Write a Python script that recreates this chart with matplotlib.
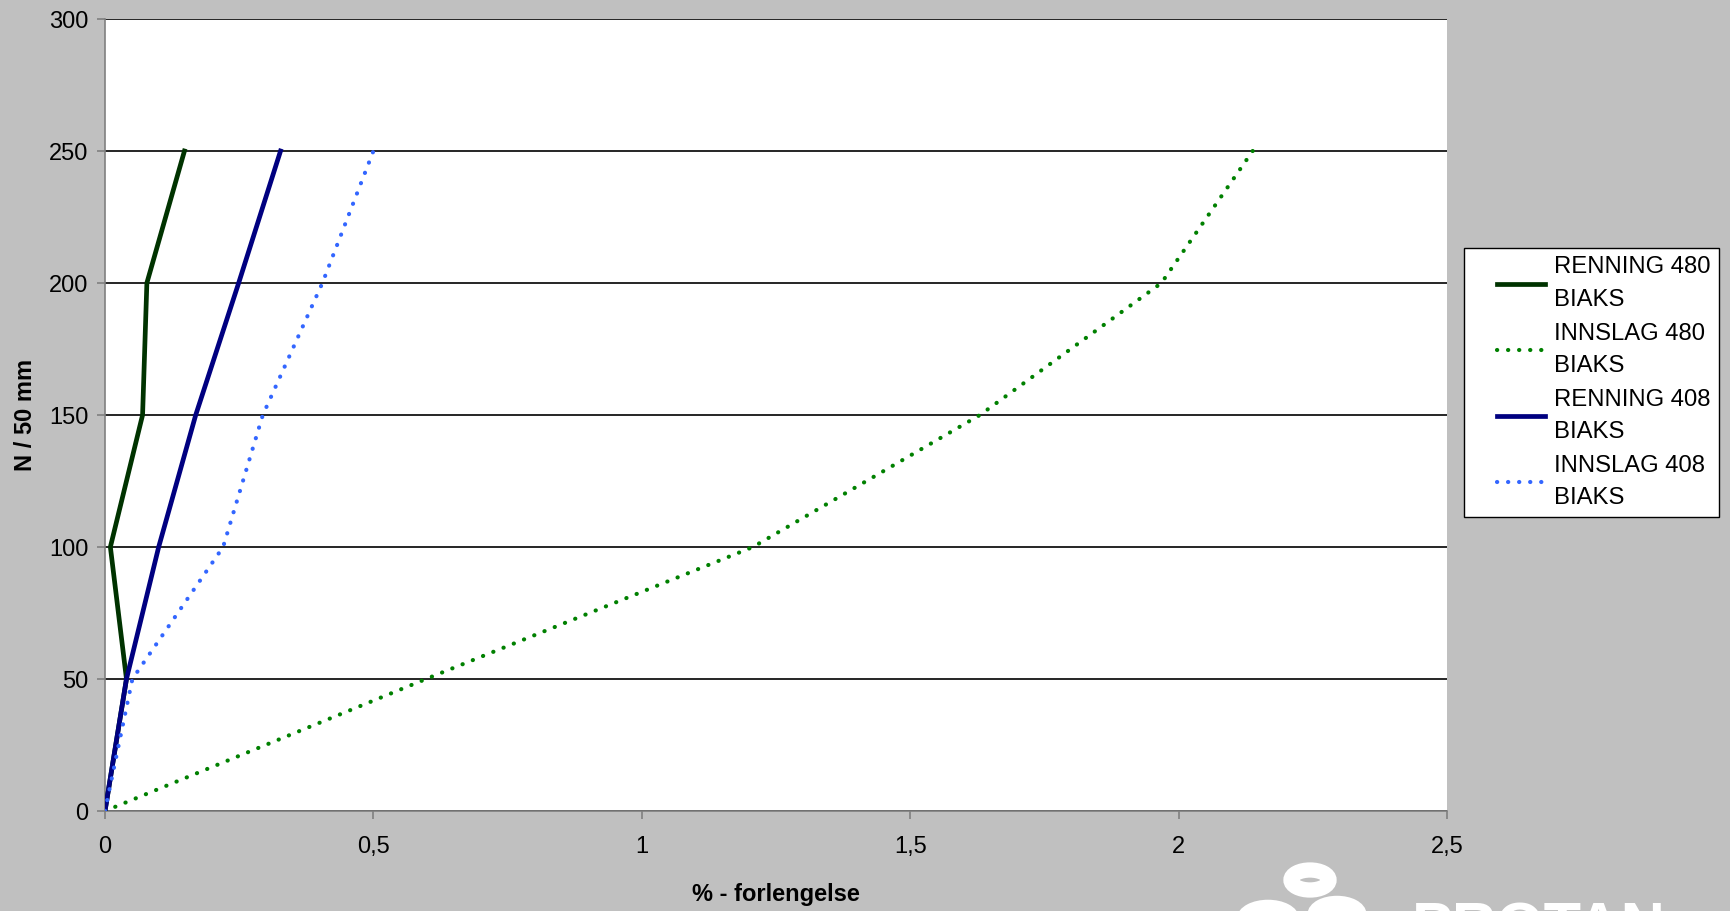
import matplotlib
matplotlib.use("Agg")
import matplotlib.pyplot as plt
from matplotlib.patches import Circle
from matplotlib.ticker import FuncFormatter
from matplotlib.legend_handler import HandlerLine2D
from matplotlib.lines import Line2D

plt.rcParams['font.family'] = ['Liberation Sans', 'DejaVu Sans']

W, H = 1731, 911
load = [0, 50, 100, 150, 200, 250]
renning_480 = [0, 0.04, 0.01, 0.07, 0.078, 0.148]
innslag_480 = [0, 0.598, 1.207, 1.630, 1.968, 2.138]
renning_408 = [0, 0.04, 0.10, 0.169, 0.249, 0.327]
innslag_408 = [0, 0.051, 0.22, 0.294, 0.405, 0.50]
labels = ["RENNING 480\nBIAKS", "INNSLAG 480\nBIAKS", "RENNING 408\nBIAKS", "INNSLAG 408\nBIAKS"]
xticks = [0, 0.5, 1, 1.5, 2, 2.5]
yticks = [0, 50, 100, 150, 200, 250, 300]


class ShortLineHandler(HandlerLine2D):
    """Legend line that occupies only the right part of the handle box."""
    def create_artists(self, legend, orig_handle, xdescent, ydescent, width, height,
                       fontsize, trans):
        arts = super().create_artists(legend, orig_handle, xdescent, ydescent, width,
                                      height, fontsize, trans)
        y = (height - ydescent) / 2
        xs = -xdescent + 0.34 * width
        xe = -xdescent + width
        for a in arts:
            if isinstance(a, Line2D):
                a.set_data([xs, xe], [y, y])
                a.set_markevery(None)
        return arts


bg = '#C0C0C0'
fig = plt.figure(figsize=(W / 100, H / 100), dpi=100, facecolor=bg)
ax = fig.add_axes([105 / W, 1 - 811 / H, (1447 - 105) / W, (811 - 19) / H])
ax.set_facecolor('white')

dot = (0, (0.05, 2.6))
ax.plot(renning_480, load, color='#003300', lw=3.4, label=labels[0], zorder=3)
ax.plot(innslag_480, load, color='#008000', lw=3.0, linestyle=dot, dash_capstyle='round',
        label=labels[1], zorder=3)
ax.plot(renning_408, load, color='#000080', lw=3.4, label=labels[2], zorder=3)
ax.plot(innslag_408, load, color='#3366FF', lw=3.0, linestyle=dot, dash_capstyle='round',
        label=labels[3], zorder=3)

ax.set_xlim(0, 2.5)
ax.set_ylim(0, 300)
ax.set_xticks(xticks)
ax.set_yticks(yticks)
ax.xaxis.set_major_formatter(FuncFormatter(lambda v, p: ('%g' % v).replace('.', ',')))
ax.yaxis.grid(True, color='black', lw=1.2)
ax.set_axisbelow(True)
for s in ['top', 'right']:
    ax.spines[s].set_visible(False)
ax.spines['left'].set_color('#808080')
ax.spines['bottom'].set_color('#808080')
ax.spines['left'].set_linewidth(1.2)
ax.spines['bottom'].set_linewidth(1.2)
ax.tick_params(axis='both', length=6, width=1.2, color='#808080', labelsize=17, pad=6)
ax.tick_params(axis='x', pad=12)

ax.set_xlabel('% - forlengelse', fontsize=17, fontweight='bold')
ax.xaxis.set_label_coords(0.5, -(895 - 811) / (811 - 19), transform=ax.transAxes)
ax.xaxis.label.set_va('center')
ax.set_ylabel('N / 50 mm', fontsize=17, fontweight='bold')
ax.yaxis.set_label_coords(-(105 - 26) / (1447 - 105), 0.5)
ax.yaxis.label.set_va('center')

leg = fig.legend(loc='upper left', bbox_to_anchor=(1464 / W, 1 - 248 / H), fontsize=17.2,
                 frameon=True, fancybox=False, edgecolor='black', facecolor='white',
                 framealpha=1, handlelength=3.05, labelspacing=0.5, borderpad=0.35,
                 handletextpad=0.37, borderaxespad=0,
                 handler_map={Line2D: ShortLineHandler()})
leg.get_frame().set_linewidth(1.0)
for t in leg.get_texts():
    t.set_linespacing(1.6)

# logo decoration (white)
for (cx, cy, r) in [(1310, 880, 19), (1337, 915, 22), (1268, 920, 24)]:
    fig.patches.append(Circle((cx / W, 1 - cy / H), r / W, transform=fig.transFigure,
                              fill=False, edgecolor='white', lw=11))
fig.text(1412 / W, 1 - 902 / H, 'PROTAN', color='white', fontsize=44, fontweight='bold',
         va='top', ha='left')

fig.savefig('out.png', dpi=100, facecolor=bg)
